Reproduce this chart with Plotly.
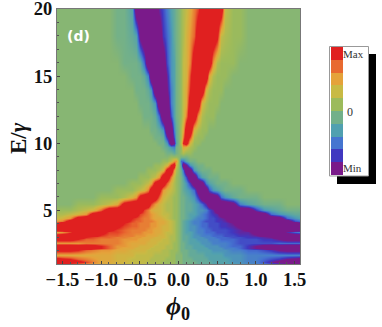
import plotly.graph_objects as go

W, H = 382, 327

# right half of the map in tenths of Max (beyond 10 = saturated band)
phi_half = [0, .03, .06, .1, .15, .2, .25, .3, .35, .4, .45, .5, .55, .6, .7, .8, .9, 1, 1.1, 1.2, 1.3, 1.4, 1.5, 1.57]
energy = [1, 1.15, 1.37, 1.65, 2.04, 2.2, 2.34, 2.56, 2.86, 3, 3.11, 3.35, 3.53, 3.8, 4.05, 4.2, 4.4, 4.7,
          5, 5.5, 6, 6.5, 7, 7.5, 8, 8.4, 8.7, 9, 9.3, 9.7, 10, 10.5, 11, 12, 13, 14, 15, 16, 18, 20]
z_half = [
    [0, 0, -1, -1, -1, -1, -2, -2, -2, -2, -3, -3, -3, -3, -3, -4, -4, -5, -5, -6, -6, -6, -6, -6],
    [0, 0, -1, -1, -1, -1, -2, -2, -2, -2, -3, -3, -3, -3, -4, -4, -5, -5, -7, -9, -12, -14, -14, -14],
    [0, 0, -1, -1, -1, -2, -2, -2, -2, -3, -3, -3, -3, -3, -4, -4, -5, -5, -6, -7, -8, -10, -11, -12],
    [0, 0, -1, -1, -2, -2, -2, -2, -3, -3, -3, -3, -3, -4, -4, -4, -5, -5, -5, -5, -5, -5, -5, -5],
    [0, -1, -1, -1, -2, -2, -3, -3, -3, -3, -4, -4, -4, -4, -5, -5, -6, -6, -7, -8, -10, -11, -11, -11],
    [0, -1, -1, -2, -2, -3, -3, -3, -3, -4, -4, -4, -4, -5, -5, -6, -8, -10, -12, -14, -14, -14, -14, -14],
    [0, -1, -1, -2, -2, -3, -3, -3, -4, -4, -4, -4, -5, -5, -6, -6, -8, -10, -12, -13, -13, -14, -14, -14],
    [0, -1, -1, -2, -3, -3, -3, -4, -4, -4, -5, -5, -5, -5, -6, -7, -7, -7, -7, -7, -6, -6, -6, -6],
    [0, -1, -2, -2, -3, -3, -4, -4, -4, -5, -5, -5, -6, -6, -6, -7, -7, -7, -8, -8, -10, -12, -12, -12],
    [0, -1, -2, -2, -3, -4, -4, -4, -5, -5, -5, -6, -6, -6, -7, -7, -8, -8, -9, -10, -14, -14, -14, -14],
    [0, -1, -2, -2, -3, -4, -4, -5, -5, -5, -6, -6, -6, -7, -7, -8, -8, -9, -11, -14, -14, -14, -14, -14],
    [0, -1, -2, -3, -3, -4, -5, -5, -6, -6, -6, -7, -7, -7, -8, -9, -9, -12, -14, -14, -14, -9, -6, -5],
    [0, -1, -2, -3, -4, -4, -5, -5, -6, -6, -7, -7, -7, -7, -8, -9, -11, -14, -14, -14, -14, -14, -13, -13],
    [0, -1, -2, -3, -4, -4, -5, -6, -6, -7, -7, -7, -8, -8, -9, -11, -14, -14, -14, -14, -14, -14, -14, -14],
    [0, -1, -2, -3, -4, -5, -5, -6, -6, -7, -7, -7, -8, -8, -10, -14, -14, -14, -14, -14, -14, -14, -14, -11],
    [0, -1, -2, -3, -4, -5, -5, -6, -7, -7, -7, -8, -8, -9, -12, -14, -14, -14, -14, -14, -14, -13, -7, -6],
    [0, -1, -1, -2, -3, -4, -5, -5, -6, -7, -7, -8, -9, -10, -14, -14, -14, -14, -14, -14, -13, -6, -4, -3],
    [0, -1, -1, -2, -3, -3, -4, -5, -6, -7, -8, -9, -12, -14, -14, -14, -14, -14, -13, -6, -4, -3, -2, -2],
    [0, -1, -1, -2, -2, -3, -4, -4, -5, -7, -9, -13, -14, -14, -14, -14, -14, -8, -4, -3, -2, -1, -1, -1],
    [0, -1, -1, -2, -2, -3, -4, -6, -9, -13, -14, -14, -14, -14, -12, -5, -3, -2, -1, -1, -1, 0, 0, 0],
    [0, -1, -1, -2, -3, -4, -8, -13, -14, -14, -14, -12, -6, -4, -2, -1, -1, -1, 0, 0, 0, 0, 0, 0],
    [0, -1, -2, -3, -4, -6, -12, -14, -13, -7, -4, -3, -2, -1, -1, -1, 0, 0, 0, 0, 0, 0, 0, 0],
    [0, -1, -2, -4, -8, -13, -14, -12, -5, -3, -2, -1, -1, -1, 0, 0, 0, 0, 0, 0, 0, 0, 0, 0],
    [0, -1, -3, -7, -14, -14, -6, -3, -2, -1, -1, -1, 0, 0, 0, 0, 0, 0, 0, 0, 0, 0, 0, 0],
    [0, -2, -6, -14, -12, -4, -2, -1, -1, -1, 0, 0, 0, 0, 0, 0, 0, 0, 0, 0, 0, 0, 0, 0],
    [0, -4, -13, -10, -4, -2, -1, -1, 0, 0, 0, 0, 0, 0, 0, 0, 0, 0, 0, 0, 0, 0, 0, 0],
    [0, -6, -6, -3, -1, -1, 0, 0, 0, 0, 0, 0, 0, 0, 0, 0, 0, 0, 0, 0, 0, 0, 0, 0],
    [0, -1, -1, -1, 0, 0, 0, 0, 0, 0, 0, 0, 0, 0, 0, 0, 0, 0, 0, 0, 0, 0, 0, 0],
    [0, 1, 2, 1, 1, 0, 0, 0, 0, 0, 0, 0, 0, 0, 0, 0, 0, 0, 0, 0, 0, 0, 0, 0],
    [0, 1, 5, 4, 2, 1, 0, 0, 0, 0, 0, 0, 0, 0, 0, 0, 0, 0, 0, 0, 0, 0, 0, 0],
    [0, 3, 10, 13, 4, 1, 1, 0, 0, 0, 0, 0, 0, 0, 0, 0, 0, 0, 0, 0, 0, 0, 0, 0],
    [0, 2, 7, 14, 9, 2, 1, 1, 0, 0, 0, 0, 0, 0, 0, 0, 0, 0, 0, 0, 0, 0, 0, 0],
    [0, 2, 5, 13, 14, 4, 2, 1, 1, 0, 0, 0, 0, 0, 0, 0, 0, 0, 0, 0, 0, 0, 0, 0],
    [0, 1, 3, 7, 14, 14, 6, 2, 1, 1, 1, 0, 0, 0, 0, 0, 0, 0, 0, 0, 0, 0, 0, 0],
    [0, 1, 3, 5, 13, 14, 14, 4, 2, 1, 1, 1, 0, 0, 0, 0, 0, 0, 0, 0, 0, 0, 0, 0],
    [0, 1, 3, 5, 10, 14, 14, 14, 4, 2, 1, 1, 1, 0, 0, 0, 0, 0, 0, 0, 0, 0, 0, 0],
    [0, 1, 3, 4, 9, 14, 14, 14, 14, 5, 2, 1, 1, 1, 0, 0, 0, 0, 0, 0, 0, 0, 0, 0],
    [0, 1, 3, 4, 7, 13, 14, 14, 14, 14, 6, 2, 1, 1, 1, 0, 0, 0, 0, 0, 0, 0, 0, 0],
    [0, 1, 2, 4, 6, 8, 13, 14, 14, 14, 14, 11, 3, 2, 1, 1, 0, 0, 0, 0, 0, 0, 0, 0],
    [0, 1, 2, 3, 5, 7, 9, 14, 14, 14, 14, 14, 13, 3, 1, 1, 0, 0, 0, 0, 0, 0, 0, 0],
]
x_ticks = [-1.5, -1.0, -0.5, 0.0, 0.5, 1.0, 1.5]
y_ticks = [5, 10, 15, 20]

legend_levels = [-10, -7.78, -5.56, -3.33, -1.11, 1.11, 3.33, 5.56, 7.78, 10]
legend_colors = ["#7a1a8a", "#4038c0", "#4575d0", "#50a0b0", "#72b08a",
                 "#9cbb5b", "#c8ba44", "#e5a23a", "#e86a30", "#e02020"]

# the map is antisymmetric in phi, so the left half is the right half flipped
phi = [-p for p in reversed(phi_half)] + phi_half[1:]
z = [[-v for v in reversed(row)] + row[1:] for row in z_half]
scale = [[(lv + 10) / 20, c] for lv, c in zip(legend_levels, legend_colors)]
scale[0][0], scale[-1][0] = 0, 1


def px_x(v):
    return v / W


def px_y(v):
    return 1 - v / H


fig = go.Figure()
fig.add_trace(go.Heatmap(x=phi, y=energy, z=z, zmin=-10, zmax=10, zsmooth="best",
                         colorscale=scale, showscale=False, hoverinfo="skip"))
fig.add_trace(go.Heatmap(z=[[v] for v in legend_levels], zmin=-10, zmax=10, colorscale=scale,
                         showscale=False, hoverinfo="skip", xaxis="x2", yaxis="y2"))

tick_font = dict(family="Liberation Serif", size=18.5, color="#111111")
fig.update_layout(
    width=W, height=H, autosize=False,
    margin=dict(l=0, r=0, t=0, b=0),
    paper_bgcolor="white", plot_bgcolor="white",
    xaxis=dict(domain=[px_x(57), px_x(300)], range=[-1.57, 1.57], tickvals=x_ticks,
               ticktext=["<b>%s</b>" % ("%.1f" % v).replace("-", "\u2212") for v in x_ticks],
               tickfont=tick_font, ticks="inside", ticklen=3, tickcolor="#444444",
               minor=dict(dtick=0.1, ticks="inside", ticklen=2, tickcolor="#555555"),
               showline=True, mirror=True, linecolor="#777777", linewidth=1, automargin=False,
               showgrid=False, zeroline=False, ticklabelstandoff=-1, ticklabeloverflow="allow"),
    yaxis=dict(domain=[px_y(264), px_y(9)], range=[1, 20], tickvals=y_ticks,
               ticktext=["<b>%d</b>" % v for v in y_ticks],
               tickfont=tick_font, ticks="inside", ticklen=3, tickcolor="#444444",
               minor=dict(dtick=1, ticks="inside", ticklen=2, tickcolor="#555555"),
               showline=True, mirror=True, linecolor="#777777", linewidth=1, automargin=False,
               showgrid=False, zeroline=False, ticklabeloverflow="allow"),
    xaxis2=dict(domain=[px_x(331), px_x(343)], visible=False, fixedrange=True, automargin=False),
    yaxis2=dict(domain=[px_y(175), px_y(47)], visible=False, fixedrange=True, automargin=False),
    shapes=[
        dict(type="rect", xref="paper", yref="paper", x0=px_x(337), x1=px_x(376), y0=px_y(184), y1=px_y(54),
             fillcolor="black", line_width=0, layer="below"),
        dict(type="rect", xref="paper", yref="paper", x0=px_x(329.5), x1=px_x(368.5), y0=px_y(176), y1=px_y(46.5),
             fillcolor="white", line=dict(color="#999999", width=1), layer="below"),
    ],
    annotations=[
        dict(text="<b>(d)</b>", x=px_x(78), y=px_y(36), font=dict(family="DejaVu Sans", size=14, color="white")),
        dict(text="<b>E/<i>\u03b3</i></b>", x=px_x(18), y=px_y(138), textangle=-90,
             font=dict(family="Liberation Serif", size=23, color="#111111")),
        dict(text="<b><i>\u03d5</i><sub>0</sub></b>", x=px_x(178), y=px_y(308),
             font=dict(family="Liberation Serif", size=26, color="#111111")),
        dict(text="Max", x=px_x(353.5), y=px_y(54), font=dict(family="Liberation Serif", size=11, color="#333333")),
        dict(text="0", x=px_x(350), y=px_y(112), font=dict(family="Liberation Serif", size=12, color="#333333")),
        dict(text="Min", x=px_x(352.5), y=px_y(168), font=dict(family="Liberation Serif", size=11, color="#333333")),
    ],
)
for a in fig.layout.annotations:
    a.update(xref="paper", yref="paper", showarrow=False, xanchor="center", yanchor="middle")

# the page's default body margin would push the figure off its pixel positions
fig.write_html("out.html", post_script="document.body.style.margin='0';",
               config={"displayModeBar": False})
